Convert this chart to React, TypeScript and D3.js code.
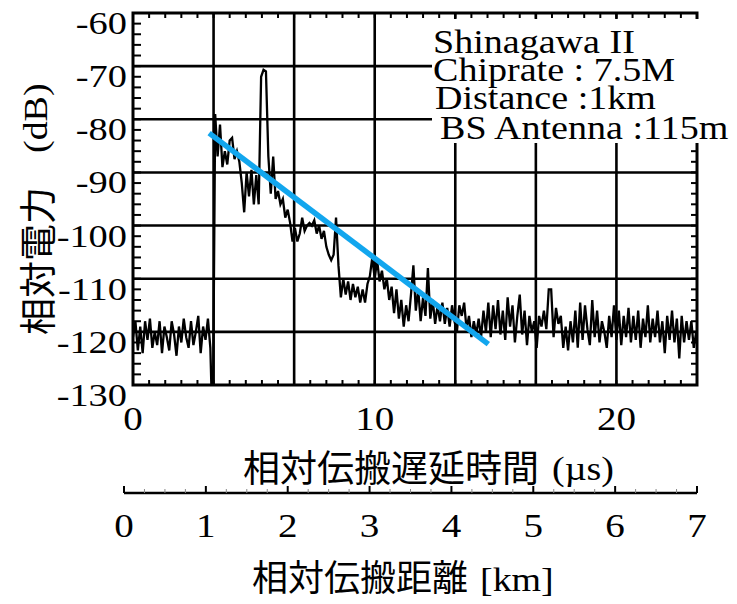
import React from 'react';
import * as d3 from 'd3';

// Sampled power delay profile, one sample every 0.1 µs
const SAMPLE_STEP_US = 0.1;

// noise floor before the first arrival (0.0 – 3.2 µs)
const floorBefore = [
  -121, -118, -123.5, -119, -124, -118, -121.5, -117.5, -123, -120, -122.5,
  -118, -124, -119, -121, -123.5, -118, -120.5, -124.5, -119, -122, -117.5,
  -121, -123, -118, -122.5, -120, -117, -124, -119, -121.5, -117.5, -123,
];

// dip just before the first arrival (3.3 µs)
const onset = [-140];

// first arrival and decaying multipath (3.4 – 15.0 µs)
const decay = [
  -79, -87, -81, -89, -86, -88.5, -84, -83.5, -87.5, -86,
  -88, -92, -97.5, -90, -94.5, -89.5, -96, -90.5, -96, -72,
  -70.7, -71, -87, -94, -87, -95, -93.5, -96, -95, -98.5,
  -97, -99.5, -103, -100.5, -103, -101.5, -98.5, -101, -100, -99.5,
  -100, -99, -101.5, -100, -102.5, -101, -104, -105.5, -106.5, -105.5,
  -98.5, -107.5, -113.5, -110, -113, -110.5, -114, -111, -113.5, -111.5,
  -114.5, -112, -114.5, -111, -109.5, -106, -110, -106.5, -110.5, -108.5,
  -112, -110, -114, -111.5, -116.5, -112, -117.5, -114, -119, -115,
  -118, -113, -107.5, -116, -112, -118, -113.5, -117, -108, -117.5,
  -114, -118.5, -115, -118, -114.5, -118.5, -115.5, -119, -115, -118,
  -120, -115, -117, -114.5, -119.5, -117, -121, -118, -120.5, -117.5,
  -121, -116, -120, -114.5, -121, -115, -119.5,
];

// noise floor after the multipath has died out (15.1 – 23.3 µs)
const floorAfter = [
  -114, -120.5, -116, -121.5, -113.5, -119, -115, -122, -117, -113,
  -120.5, -116, -122.5, -117, -120, -118, -123, -117, -119, -116,
  -119.5, -112, -112, -121, -115.5, -118.5, -117, -123, -119, -123.5,
  -118, -122, -116, -123, -114.5, -121.5, -115, -119.5, -122.5, -114,
  -121, -116, -122, -118, -120, -123, -117, -121, -115, -121.5,
  -116, -122.5, -117, -121, -115.5, -122, -117, -121.5, -116, -123,
  -117.5, -121, -115, -122, -117.5, -121, -116, -122, -118, -124,
  -117, -121.5, -116, -122, -117.5, -125, -117, -122, -118, -121.5,
  -118, -123, -120,
];

// regression line of the decay (blue)
const fitDelayUs = [3.15, 14.7];
const fitPowerDb = [-82.6, -122.3];

const powerTicks = [-60, -70, -80, -90, -100, -110, -120, -130];
const delayTickLabels = [0, 10, 20];
const distanceTicks = [0, 1, 2, 3, 4, 5, 6, 7];
const infoLines = ['Shinagawa II', 'Chiprate : 7.5M', 'Distance :1km', 'BS Antenna :115m'];

const US_PER_KM = 10 / 3;

const W = 737;
const H = 604;
const L = 133;
const R = 697;
const T = 13;
const B = 385;

const SERIF = "'Liberation Serif', 'Times New Roman', serif";
const CJK = "'Noto Sans CJK JP', 'Noto Sans CJK SC', sans-serif";

function SerifText({ x, y, size, sx = 1.15, anchor = 'start', rotate = 0, children }: any) {
  return (
    <text
      transform={`translate(${x},${y}) rotate(${rotate}) scale(${sx},1)`}
      fontFamily={SERIF}
      fontSize={size}
      textAnchor={anchor}
      fill="#000"
    >
      {children}
    </text>
  );
}

export default function App() {
  const x = d3.scaleLinear().domain([0, 7 * US_PER_KM]).range([L, R]);
  const y = d3.scaleLinear().domain([-130, -60]).range([B, T]);
  const kmX = d3.scaleLinear().domain([0, 7]).range([124, 697]);

  const power = [...floorBefore, ...onset, ...decay, ...floorAfter];
  const trace = power.map((v, i) => [i * SAMPLE_STEP_US, v] as [number, number]);
  const line = d3
    .line<[number, number]>()
    .x((d) => x(d[0]))
    .y((d) => y(d[1]));
  const fit = fitDelayUs.map((t, i) => [t, fitPowerDb[i]] as [number, number]);

  const kmGrid = [1, 2, 3, 4, 5, 6];
  const dbGrid = [-70, -80, -90, -100, -110, -120];
  const minorDb = d3.range(-128, -60, 2);
  const minorKm = d3.range(0.2, 7, 0.2);
  const kmMinor = d3.range(0.25, 7, 0.25).filter((v) => Math.abs(v - Math.round(v)) > 1e-6);

  return (
    <svg
      width={W}
      height={H}
      style={{ position: 'absolute', left: 0, top: 0, background: '#fff' }}
    >
      <defs>
        <clipPath id="plot-area">
          <rect x={L} y={T} width={R - L} height={B - T} />
        </clipPath>
      </defs>

      {/* grid */}
      <g stroke="#000" strokeWidth={2.6}>
        {kmGrid.map((k) => (
          <line key={'v' + k} x1={x(k * US_PER_KM)} x2={x(k * US_PER_KM)} y1={T} y2={B} />
        ))}
        {dbGrid.map((v) => (
          <line key={'h' + v} x1={L} x2={R} y1={y(v)} y2={y(v)} />
        ))}
      </g>

      {/* measured profile */}
      <path
        d={line(trace) || ''}
        fill="none"
        stroke="#000"
        strokeWidth={2.3}
        clipPath="url(#plot-area)"
      />

      {/* fitted slope */}
      <path d={line(fit) || ''} fill="none" stroke="#12a6ee" strokeWidth={5.5} />

      {/* minor ticks */}
      <g stroke="#000" strokeWidth={2}>
        {minorDb.map((v) => (
          <line key={'l' + v} x1={L} x2={L + 8} y1={y(v)} y2={y(v)} />
        ))}
        {minorDb.map((v) => (
          <line key={'r' + v} x1={R} x2={R - 6} y1={y(v)} y2={y(v)} />
        ))}
        {minorKm.map((k) => (
          <line key={'b' + k} x1={x(k * US_PER_KM)} x2={x(k * US_PER_KM)} y1={B} y2={B - 5} />
        ))}
        {minorKm.map((k) => (
          <line key={'t' + k} x1={x(k * US_PER_KM)} x2={x(k * US_PER_KM)} y1={T} y2={T + 5} />
        ))}
      </g>

      {/* frame */}
      <rect x={L} y={T} width={R - L} height={B - T} fill="none" stroke="#000" strokeWidth={3} />

      {/* measurement conditions */}
      <rect x={432} y={19} width={W - 432} height={124} fill="#fff" />
      {infoLines.map((s, i) => (
        <SerifText key={s} x={[433, 433, 435, 440][i]} y={[53, 81, 109, 139][i]} size={34} sx={1.12}>
          {s}
        </SerifText>
      ))}

      {/* power axis labels */}
      {powerTicks.map((v) => (
        <SerifText key={'yl' + v} x={127} y={y(v) + 21} size={32} sx={1.2} anchor="end">
          {String(v)}
        </SerifText>
      ))}
      <text
        transform="translate(52,335) rotate(-90)"
        fontFamily={CJK}
        fontSize={37}
        fill="#000"
      >
        相対電力
      </text>
      <SerifText x={47} y={153} size={33} rotate={-90}>
        (dB)
      </SerifText>

      {/* delay axis labels */}
      {delayTickLabels.map((v) => (
        <SerifText key={'xl' + v} x={x(v)} y={430} size={34} anchor="middle">
          {String(v)}
        </SerifText>
      ))}
      <text x={243} y={482} fontFamily={CJK} fontSize={37} fill="#000">
        相対伝搬遅延時間
      </text>
      <SerifText x={552} y={480} size={33}>
        (µs)
      </SerifText>

      {/* distance axis */}
      <line x1={kmX(0)} x2={kmX(7)} y1={493} y2={493} stroke="#000" strokeWidth={2.5} />
      <g stroke="#000" strokeWidth={2}>
        {distanceTicks.map((k) => (
          <line key={'kt' + k} x1={kmX(k)} x2={kmX(k)} y1={493} y2={486} />
        ))}
      </g>
      <g stroke="#888" strokeWidth={1}>
        {kmMinor.map((k) => (
          <line key={'km' + k} x1={kmX(k)} x2={kmX(k)} y1={493} y2={489} />
        ))}
      </g>
      {distanceTicks.map((k) => (
        <SerifText key={'kl' + k} x={kmX(k)} y={537} size={34} anchor="middle">
          {String(k)}
        </SerifText>
      ))}
      <text x={252} y={591} fontFamily={CJK} fontSize={36} fill="#000">
        相対伝搬距離
      </text>
      <SerifText x={480} y={591} size={33}>
        [km]
      </SerifText>
    </svg>
  );
}
